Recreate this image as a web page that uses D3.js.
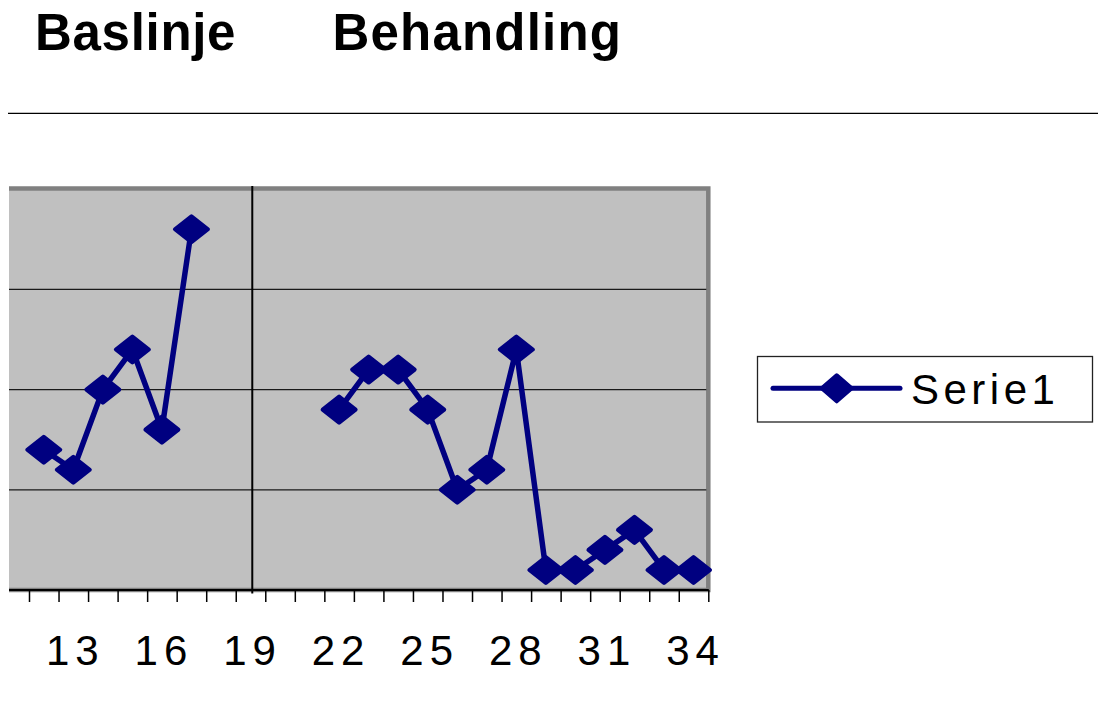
<!DOCTYPE html>
<html>
<head>
<meta charset="utf-8">
<script src="https://cdn.jsdelivr.net/npm/d3@7/dist/d3.min.js"></script>
<style>
  html, body { margin: 0; padding: 0; background: #ffffff; }
  svg { display: block; }
</style>
</head>
<body>
<svg id="chart" width="1098" height="723"></svg>
<script>
// ---- data ----
const sessions = [12, 13, 14, 15, 16, 17, 18, 19, 20, 21, 22, 23, 24, 25, 26, 27, 28, 29, 30, 31, 32, 33, 34];
const values   = [7, 6, 10, 12, 8, 18, null, null, null, null, 9, 11, 11, 9, 5, 6, 12, 1, 1, 2, 3, 1, 1];
const tickLabels = [13, 16, 19, 22, 25, 28, 31, 34];
const yGridValues = [5, 10, 15];
const phaseChangeAt = 19.06;
const phaseTitles = ["Baslinje", "Behandling"];
const seriesName = "Serie1";

// ---- layout ----
const svg = d3.select("#chart");
const plotLeft = 9, plotRight = 708.3, plotTop = 188.5, plotBottom = 590;
const x = d3.scaleLinear().domain([11.5, 34.5]).range([29, 708.3]);
const y = d3.scaleLinear().domain([0, 20]).range([plotBottom, 189.2]);
const navy = "#000080";

// titles
svg.append("text").attr("x", 35).attr("y", 50)
  .attr("font-family", "Liberation Sans, Arial, sans-serif").attr("font-weight", "bold")
  .attr("font-size", 51).attr("letter-spacing", 0.7).attr("fill", "#000").text(phaseTitles[0]);
svg.append("text").attr("x", 332.5).attr("y", 50)
  .attr("font-family", "Liberation Sans, Arial, sans-serif").attr("font-weight", "bold")
  .attr("font-size", 51).attr("letter-spacing", 1.2).attr("fill", "#000").text(phaseTitles[1]);

// separator line
svg.append("line").attr("x1", 8).attr("x2", 1098).attr("y1", 113.3).attr("y2", 113.3)
  .attr("stroke", "#000").attr("stroke-width", 1.3);

// clip for plot (left side is cut)
svg.append("clipPath").attr("id", "plotclip").append("rect")
  .attr("x", plotLeft).attr("y", 0).attr("width", 1098).attr("height", 723);

const g = svg.append("g").attr("clip-path", "url(#plotclip)");

// plot area
g.append("rect")
  .attr("x", plotLeft - 5).attr("y", plotTop)
  .attr("width", plotRight - plotLeft + 5).attr("height", plotBottom - plotTop)
  .attr("fill", "#c0c0c0").attr("stroke", "#808080").attr("stroke-width", 4.5);

// gridlines
g.selectAll(".grid").data(yGridValues).enter().append("line")
  .attr("x1", plotLeft).attr("x2", plotRight - 2)
  .attr("y1", d => y(d)).attr("y2", d => y(d))
  .attr("stroke", "#1a1a1a").attr("stroke-width", 1.2);

// x axis
const ticks = d3.range(11.5, 34.6, 1);
const xAxis = d3.axisBottom(x).tickValues(ticks).tickSize(12).tickFormat("");
const axG = g.append("g").attr("transform", `translate(0,${plotBottom})`).call(xAxis);
axG.select(".domain").remove();
axG.selectAll(".tick line").attr("stroke", "#000").attr("stroke-width", 1.5);
g.append("line").attr("x1", plotLeft).attr("x2", plotRight + 0.5)
  .attr("y1", plotBottom).attr("y2", plotBottom)
  .attr("stroke", "#000").attr("stroke-width", 2);

// tick labels
svg.selectAll(".xlab").data(tickLabels).enter().append("text")
  .attr("x", d => x(d) + 2).attr("y", 664.5)
  .attr("text-anchor", "middle")
  .attr("font-family", "Liberation Sans, Arial, sans-serif")
  .attr("font-size", 42).attr("letter-spacing", 6)
  .attr("fill", "#000").text(d => d);

// phase change line
g.append("line").attr("x1", x(phaseChangeAt)).attr("x2", x(phaseChangeAt))
  .attr("y1", 186).attr("y2", 593.5)
  .attr("stroke", "#000").attr("stroke-width", 2);

// data line
const pts = sessions.map((s, i) => ({ s, v: values[i] }));
const line = d3.line().defined(d => d.v !== null).x(d => x(d.s)).y(d => y(d.v));
g.append("path").datum(pts).attr("d", line)
  .attr("fill", "none").attr("stroke", navy).attr("stroke-width", 5.5)
  .attr("stroke-linejoin", "round");

const diamond = (cx, cy) => `M${cx},${cy - 13}L${cx + 16.5},${cy}L${cx},${cy + 13}L${cx - 16.5},${cy}Z`;
g.selectAll(".mk").data(pts.filter(d => d.v !== null)).enter().append("path")
  .attr("d", d => diamond(x(d.s), y(d.v)))
  .attr("fill", navy).attr("stroke", navy).attr("stroke-width", 4)
  .attr("stroke-linejoin", "round");

// legend
svg.append("rect").attr("x", 757.5).attr("y", 356.5).attr("width", 335).attr("height", 65.5)
  .attr("fill", "#fff").attr("stroke", "#222").attr("stroke-width", 1.3);
svg.append("line").attr("x1", 773).attr("x2", 900).attr("y1", 388.3).attr("y2", 388.3)
  .attr("stroke", navy).attr("stroke-width", 5).attr("stroke-linecap", "round");
svg.append("path").attr("d", `M836.7,375.3L851.7,388.3L836.7,401.3L821.7,388.3Z`)
  .attr("fill", navy).attr("stroke", navy).attr("stroke-width", 4).attr("stroke-linejoin", "round");
svg.append("text").attr("x", 911).attr("y", 404.3)
  .attr("font-family", "Liberation Sans, Arial, sans-serif")
  .attr("font-size", 42).attr("letter-spacing", 4.5).attr("fill", "#000").text(seriesName);
</script>
</body>
</html>
